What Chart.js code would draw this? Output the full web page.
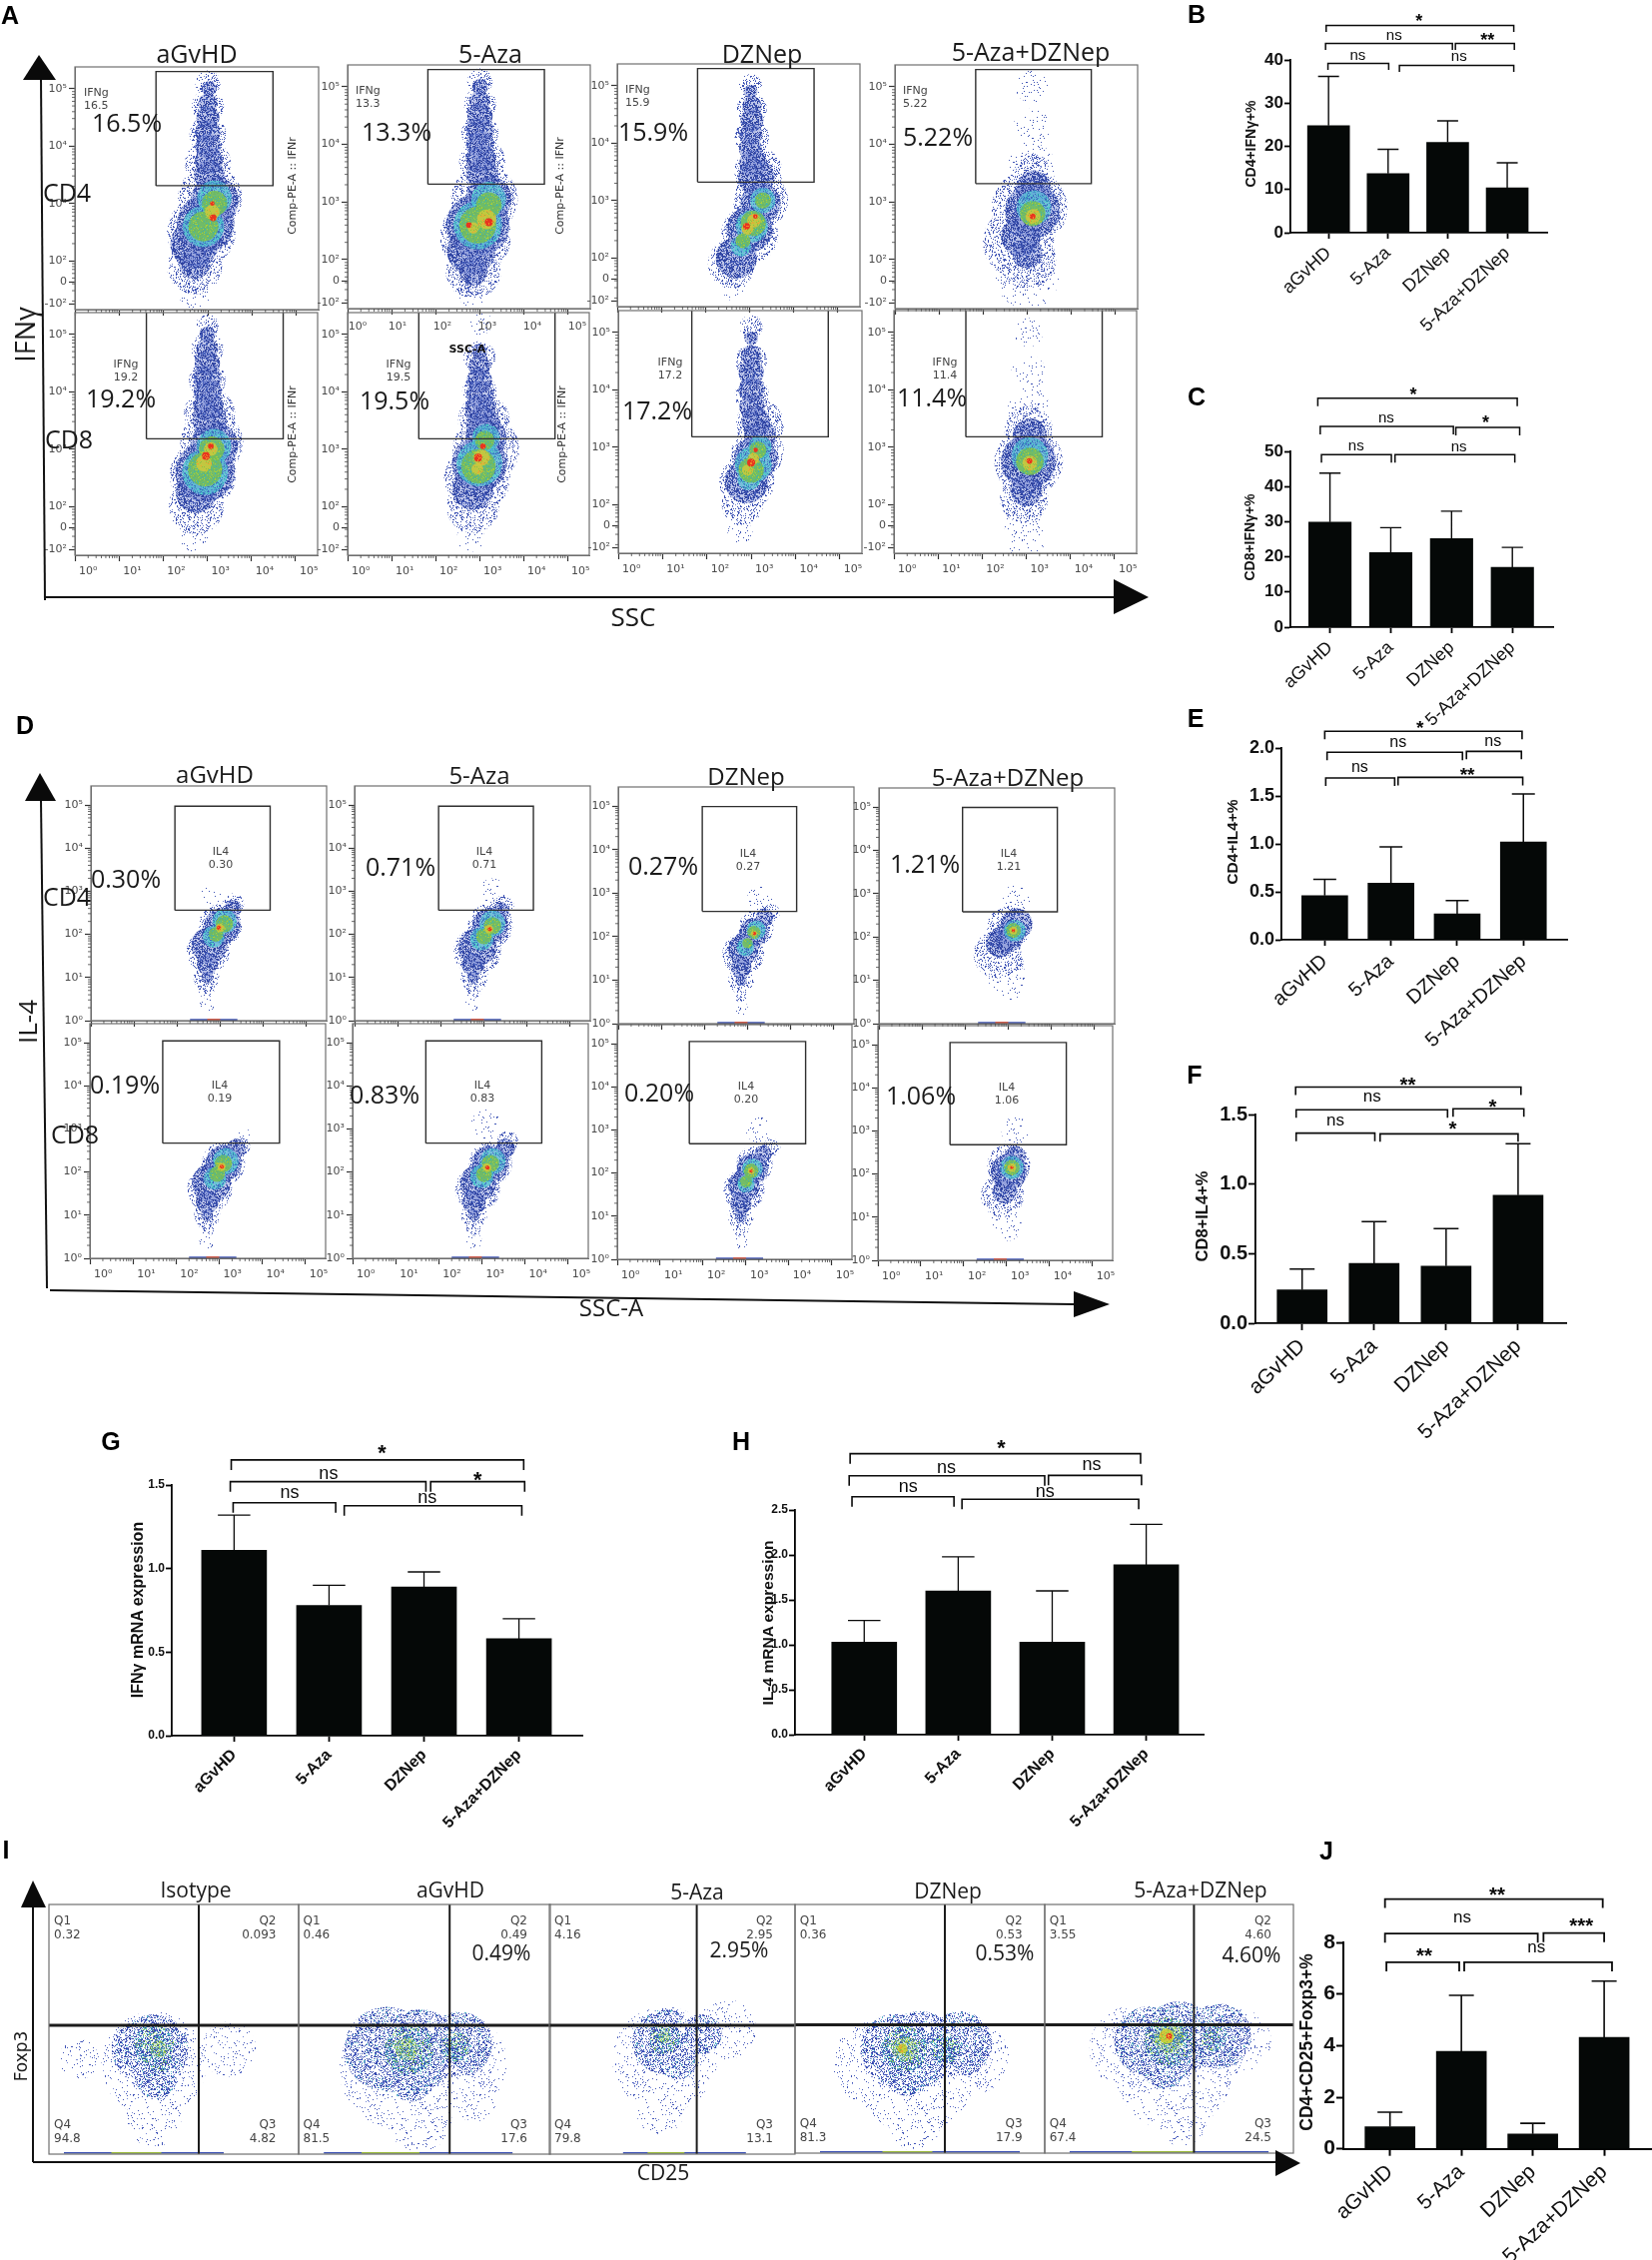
<!DOCTYPE html>
<html>
<head>
<meta charset="utf-8">
<title>Flow cytometry and cytokine bar charts</title>
<script src="https://cdn.jsdelivr.net/npm/chart.js@4"></script>
<style>
  html, body { margin: 0; background: #fff; }
  #page { position: relative; width: 1654px; height: 2263px; overflow: hidden; background: #fff; }
  #page canvas { position: absolute; }
  .txt { position: absolute; white-space: pre; transform-origin: center; line-height: 1; color: #1a1a1a; }
  #arrows { position: absolute; left: 0; top: 0; }
</style>
</head>
<body>
<div id="page"></div>
<script>
// ---------- bar chart data ----------
const groups = ["aGvHD", "5-Aza", "DZNep", "5-Aza+DZNep"];

const cd4IfnMeans = [24.8, 13.7, 20.9, 10.4];
const cd4IfnTops = [36.2, 19.3, 25.9, 16.2];
const cd4IfnTicks = [0, 10, 20, 30, 40];
const cd4IfnBrackets = [
  [-0.04, 3.11, 48, "*", 1.52, 49.8], [-0.05, 2.08, 43.8, "ns", 1.1, 45.6], [2.13, 3.12, 43.8, "**", 2.67, 45.3],
  [-0.01, 1.01, 39.2, "ns", 0.49, 41], [1.19, 3.11, 38.7, "ns", 2.19, 40.8],
];
const cd8IfnMeans = [29.9, 21.2, 25.2, 17];
const cd8IfnTops = [43.8, 28.3, 33, 22.7];
const cd8IfnTicks = [0, 10, 20, 30, 40, 50];
const cd8IfnBrackets = [
  [-0.2, 3.08, 65.1, "*", 1.37, 67], [-0.16, 2.03, 57.1, "ns", 0.925, 59.5], [2.07, 3.12, 56.8, "*", 2.56, 59.2],
  [-0.14, 1.01, 49.1, "ns", 0.43, 51.4], [1.07, 3.04, 49.1, "ns", 2.12, 51.2],
];
const cd4Il4Means = [0.46, 0.59, 0.27, 1.02];
const cd4Il4Tops = [0.63, 0.97, 0.41, 1.52];
const cd4Il4Ticks = [0, 0.5, 1, 1.5, 2];
const cd4Il4Brackets = [
  [0, 2.98, 2.174, "*", 1.44, 2.243], [0.035, 2.08, 1.955, "ns", 1.107, 2.059], [2.14, 2.97, 1.965, "ns", 2.54, 2.066],
  [0.015, 1.056, 1.687, "ns", 0.528, 1.791], [1.107, 2.99, 1.694, "**", 2.153, 1.763],
];
const cd8Il4Means = [0.24, 0.43, 0.41, 0.92];
const cd8Il4Tops = [0.39, 0.73, 0.68, 1.29];
const cd8Il4Ticks = [0, 0.5, 1, 1.5];
const cd8Il4Brackets = [
  [-0.09, 3.04, 1.697, "**", 1.468, 1.74], [-0.083, 2.02, 1.534, "ns", 0.972, 1.625], [2.097, 3.08, 1.541, "*", 2.648, 1.584],
  [-0.083, 1.01, 1.366, "ns", 0.463, 1.457], [1.083, 3, 1.361, "*", 2.093, 1.421],
];
const ifnMrnaMeans = [1.11, 0.78, 0.89, 0.58];
const ifnMrnaTops = [1.32, 0.9, 0.98, 0.7];
const ifnMrnaTicks = [0, 0.5, 1, 1.5];
const ifnMrnaBrackets = [
  [-0.03, 3.05, 1.65, "*", 1.558, 1.713], [-0.04, 2.02, 1.52, "ns", 0.994, 1.566], [2.07, 3.06, 1.52, "*", 2.565, 1.556],
  [-0.01, 1.07, 1.394, "ns", 0.584, 1.454], [1.16, 3.03, 1.376, "ns", 2.033, 1.42],
];
const il4MrnaMeans = [1.03, 1.6, 1.03, 1.89];
const il4MrnaTops = [1.27, 1.98, 1.6, 2.34];
const il4MrnaTicks = [0, 0.5, 1, 1.5, 2, 2.5];
const il4MrnaBrackets = [
  [-0.15, 2.94, 3.126, "*", 1.459, 3.237], [-0.16, 1.92, 2.881, "ns", 0.874, 2.97], [1.96, 2.95, 2.885, "ns", 2.419, 2.996],
  [-0.13, 0.955, 2.648, "ns", 0.467, 2.759], [1.04, 2.92, 2.62, "ns", 1.923, 2.704],
];
const tregMeans = [0.86, 3.78, 0.58, 4.32];
const tregTops = [1.42, 5.95, 0.99, 6.5];
const tregTicks = [0, 2, 4, 6, 8];
const tregBrackets = [
  [-0.07, 2.98, 9.68, "**", 1.5, 10], [-0.07, 2.07, 8.34, "ns", 1.012, 8.94], [2.15, 3, 8.36, "***", 2.68, 8.77],
  [-0.05, 0.97, 7.23, "**", 0.48, 7.64], [1.04, 3.11, 7.23, "ns", 2.05, 7.81],
];

// ---------- flow cytometry data: [log SSC, log signal, spread in decades, density level] ----------
// levels: 0 faint, 1 fringe, 2 blue, 3 cyan, 4 green, 5 yellow, 6 red
const ifnCd4Agvhd = [
  [2.7, 1.4, 0.26, 0], [3, 5.1, 0.22, 1], [3, 4.7, 0.28, 1], [3, 4.2, 0.32, 1], [3, 3.7, 0.4, 1], [3.05, 3.1, 0.56, 1], [2.85, 2.5, 0.6, 1], [2.7, 1.9, 0.48, 1],
  [3.03, 5, 0.13, 2], [3, 4.75, 0.17, 2], [3, 4.5, 0.2, 2], [3, 4.25, 0.22, 2], [3, 4, 0.22, 2], [3.02, 3.75, 0.24, 2], [3.03, 3.5, 0.27, 2], [3.15, 3.05, 0.42, 2], [2.95, 2.65, 0.5, 2], [2.7, 2.3, 0.42, 2], [2.7, 1.95, 0.27, 2],
  [3.15, 3.1, 0.3, 3], [2.9, 2.6, 0.36, 3], [3.15, 3, 0.22, 4], [2.9, 2.6, 0.26, 4],
  [3.1, 2.85, 0.13, 5], [3.12, 2.75, 0.06, 6], [3.1, 3, 0.04, 6],
];
const ifnCd4Aza = [
  [2.85, 1.4, 0.25, 0], [3, 5.1, 0.22, 1], [3, 4.7, 0.28, 1], [3, 4.2, 0.32, 1], [3.05, 3.7, 0.4, 1], [3.1, 3.05, 0.58, 1], [2.9, 2.4, 0.62, 1], [2.85, 1.8, 0.48, 1],
  [3, 5, 0.14, 2], [3, 4.75, 0.18, 2], [3, 4.5, 0.22, 2], [3, 4.25, 0.24, 2], [3, 4, 0.24, 2], [3.02, 3.75, 0.26, 2], [3.05, 3.5, 0.28, 2], [3.2, 3.05, 0.4, 2], [2.95, 2.6, 0.55, 2], [2.8, 2.15, 0.42, 2], [2.85, 1.8, 0.25, 2],
  [3.2, 3.05, 0.3, 3], [2.95, 2.6, 0.42, 3], [3.2, 2.95, 0.22, 4], [2.95, 2.6, 0.32, 4],
  [3.15, 2.7, 0.17, 5], [2.85, 2.55, 0.1, 5], [3.2, 2.65, 0.07, 6], [2.75, 2.6, 0.05, 6],
];
const ifnCd4Dznep = [
  [2.65, 1.45, 0.2, 0], [3.02, 5, 0.2, 1], [3.05, 4.6, 0.26, 1], [3.05, 4.1, 0.3, 1], [3.2, 3.5, 0.42, 1], [3.25, 3, 0.48, 1], [3, 2.4, 0.5, 1], [2.6, 1.9, 0.42, 1],
  [3.02, 4.9, 0.12, 2], [3.05, 4.65, 0.17, 2], [3.05, 4.4, 0.2, 2], [3.03, 4.15, 0.2, 2], [3.02, 3.9, 0.2, 2], [3.08, 3.65, 0.24, 2], [3.15, 3.4, 0.32, 2], [3.25, 2.95, 0.35, 2], [3, 2.5, 0.4, 2], [2.7, 2, 0.36, 2],
  [3.3, 3, 0.22, 3], [3.05, 2.55, 0.28, 3], [2.8, 2.2, 0.18, 3], [3.3, 3, 0.14, 4], [3.08, 2.6, 0.22, 4], [2.85, 2.3, 0.13, 4],
  [3.1, 2.65, 0.12, 5], [2.95, 2.5, 0.1, 5], [3.13, 2.72, 0.04, 6], [2.93, 2.55, 0.06, 6],
];
const ifnCd4Both = [
  [3.1, 5, 0.28, 0], [3.1, 4.3, 0.32, 0], [3.1, 3.6, 0.42, 0], [3.1, 1.3, 0.3, 0], [3, 1.7, 0.55, 0],
  [3.1, 3.55, 0.3, 1], [3.05, 2.9, 0.66, 1], [2.8, 2.3, 0.62, 1], [3, 2, 0.5, 1],
  [3.15, 3.25, 0.3, 2], [3.12, 2.85, 0.48, 2], [2.85, 2.4, 0.34, 2], [3, 2.1, 0.26, 2],
  [3.15, 2.9, 0.3, 3], [3.12, 2.8, 0.22, 4], [3.13, 2.75, 0.13, 5], [3.12, 2.75, 0.05, 6],
];
const ifnCd8Agvhd = [
  [2.7, 1.45, 0.24, 0], [3, 5.15, 0.2, 1], [3, 4.75, 0.28, 1], [3, 4.2, 0.32, 1], [3.05, 3.6, 0.45, 1], [3.1, 3.1, 0.55, 1], [2.9, 2.55, 0.58, 1], [2.75, 2, 0.48, 1],
  [3, 5, 0.14, 2], [3, 4.75, 0.19, 2], [3, 4.5, 0.22, 2], [3, 4.25, 0.24, 2], [3, 4, 0.24, 2], [3.02, 3.75, 0.26, 2], [3.05, 3.5, 0.3, 2], [3.15, 3.05, 0.42, 2], [2.95, 2.6, 0.52, 2], [2.75, 2.25, 0.36, 2],
  [3.15, 3.05, 0.3, 3], [2.95, 2.6, 0.4, 3], [3.1, 3, 0.22, 4], [2.95, 2.65, 0.3, 4],
  [3.08, 3, 0.12, 5], [2.92, 2.75, 0.14, 5], [3.08, 3.05, 0.05, 6], [2.97, 2.88, 0.07, 6],
];
const ifnCd8Aza = [
  [2.8, 1.45, 0.24, 0], [3, 5.2, 0.22, 0], [3, 4.6, 0.28, 1], [3, 4, 0.3, 1], [3.1, 3.5, 0.45, 1], [3.15, 3, 0.58, 1], [2.95, 2.5, 0.58, 1], [2.85, 2, 0.46, 1],
  [3, 4.7, 0.14, 2], [3, 4.45, 0.19, 2], [3, 4.2, 0.22, 2], [3.01, 3.95, 0.24, 2], [3.02, 3.7, 0.26, 2], [3.08, 3.45, 0.3, 2], [3.15, 3.2, 0.36, 2], [3, 2.75, 0.48, 2], [2.85, 2.3, 0.36, 2],
  [3.15, 3.2, 0.24, 3], [3, 2.75, 0.4, 3], [3.12, 3.15, 0.17, 4], [2.98, 2.7, 0.3, 4],
  [3.05, 2.85, 0.14, 5], [2.95, 2.65, 0.1, 5], [3.08, 3.05, 0.05, 6], [2.97, 2.85, 0.07, 6],
];
const ifnCd8Dznep = [
  [2.75, 1.5, 0.22, 0], [3, 5.1, 0.2, 1], [3, 4.5, 0.28, 1], [3.02, 3.9, 0.3, 1], [3.2, 3.4, 0.42, 1], [3.15, 2.9, 0.46, 1], [2.9, 2.4, 0.48, 1], [2.8, 2, 0.36, 1],
  [3, 4.9, 0.12, 2], [3, 4.6, 0.18, 2], [3, 4.3, 0.22, 2], [3, 4, 0.22, 2], [3.02, 3.7, 0.22, 2], [3.1, 3.45, 0.25, 2], [3.2, 3.2, 0.28, 2], [3.1, 2.8, 0.38, 2], [2.9, 2.4, 0.38, 2],
  [3.2, 3, 0.2, 3], [3.05, 2.7, 0.32, 3], [2.95, 2.45, 0.2, 3], [3.15, 2.95, 0.15, 4], [3, 2.6, 0.22, 4],
  [3.05, 2.8, 0.1, 5], [2.92, 2.6, 0.1, 5], [3.1, 2.95, 0.04, 6], [3, 2.73, 0.07, 6],
];
const ifnCd8Both = [
  [3.05, 5, 0.25, 0], [3.05, 4.3, 0.3, 0], [3.05, 3.7, 0.36, 0], [2.95, 1.6, 0.34, 0], [3, 1.25, 0.3, 0],
  [3.05, 3.3, 0.42, 1], [3.05, 2.75, 0.6, 1], [2.95, 2.1, 0.42, 1],
  [3.08, 3.2, 0.3, 2], [3.05, 2.75, 0.48, 2], [3, 2.25, 0.28, 2],
  [3.08, 2.85, 0.32, 3], [3.08, 2.75, 0.24, 4], [3.08, 2.72, 0.13, 5], [3.07, 2.76, 0.05, 6],
];
const il4Cd4Agvhd = [
  [2.7, 0.4, 0.18, 0], [2.8, 2.9, 0.25, 0], [3.3, 2.7, 0.25, 1], [3, 2.2, 0.5, 1], [2.72, 1.6, 0.5, 1], [2.68, 1, 0.3, 1], [2.68, 0.7, 0.18, 1],
  [3.3, 2.6, 0.2, 2], [3.05, 2.2, 0.42, 2], [2.75, 1.75, 0.42, 2], [2.7, 1.3, 0.24, 2], [2.7, 1, 0.14, 2],
  [3.1, 2.3, 0.28, 3], [2.85, 1.95, 0.25, 3], [3.1, 2.25, 0.2, 4], [2.9, 2, 0.17, 4], [3, 2.15, 0.1, 5], [2.97, 2.15, 0.05, 6],
];
const il4Cd4Aza = [
  [3.2, 3, 0.3, 0], [2.75, 0.4, 0.18, 0], [3.45, 2.65, 0.25, 1], [3.15, 2.2, 0.52, 1], [2.85, 1.6, 0.55, 1], [2.78, 1, 0.32, 1], [2.76, 0.7, 0.18, 1],
  [3.4, 2.55, 0.2, 2], [3.15, 2.2, 0.42, 2], [2.85, 1.7, 0.44, 2], [2.75, 1.3, 0.26, 2], [2.75, 1, 0.14, 2],
  [3.2, 2.25, 0.3, 3], [2.95, 1.9, 0.27, 3], [3.2, 2.2, 0.2, 4], [3, 1.95, 0.18, 4], [3.12, 2.12, 0.1, 5], [3.14, 2.12, 0.05, 6],
];
const il4Cd4Dznep = [
  [3.3, 2.9, 0.3, 0], [2.85, 0.35, 0.16, 0], [3.55, 2.55, 0.2, 1], [3.2, 2.2, 0.4, 1], [2.9, 1.6, 0.48, 1], [2.85, 1, 0.3, 1], [2.85, 0.65, 0.16, 1],
  [3.4, 2.45, 0.2, 2], [3.15, 2.1, 0.33, 2], [2.9, 1.7, 0.35, 2], [2.85, 1.3, 0.24, 2], [2.85, 1, 0.13, 2],
  [3.2, 2.15, 0.22, 3], [2.95, 1.75, 0.2, 3], [3.15, 2.1, 0.15, 4], [3, 1.85, 0.12, 4], [3.15, 2.07, 0.07, 5], [3.16, 2.07, 0.04, 6],
];
const il4Cd4Both = [
  [3.2, 2.9, 0.32, 0], [3, 1, 0.45, 0], [3, 2.2, 0.5, 1], [2.75, 1.6, 0.55, 1], [3.05, 1.4, 0.3, 1],
  [3.2, 2.3, 0.36, 2], [2.8, 1.85, 0.32, 2], [3, 2, 0.35, 2],
  [3.15, 2.15, 0.25, 3], [3.12, 2.15, 0.17, 4], [3.12, 2.15, 0.09, 5], [3.12, 2.15, 0.04, 6],
];
const il4Cd8Agvhd = [
  [3.6, 2.8, 0.2, 0], [2.72, 0.4, 0.18, 0], [3.5, 2.6, 0.22, 1], [3.1, 2.2, 0.5, 1], [2.78, 1.6, 0.52, 1], [2.72, 1, 0.3, 1], [2.72, 0.7, 0.18, 1],
  [3.4, 2.55, 0.22, 2], [3.1, 2.2, 0.42, 2], [2.82, 1.75, 0.45, 2], [2.72, 1.3, 0.26, 2], [2.72, 1, 0.14, 2],
  [3.15, 2.25, 0.3, 3], [2.9, 1.85, 0.26, 3], [3.1, 2.2, 0.2, 4], [2.95, 1.95, 0.18, 4], [3.05, 2.12, 0.1, 5], [3.06, 2.12, 0.05, 6],
];
const il4Cd8Aza = [
  [3.1, 3.1, 0.35, 0], [2.82, 0.4, 0.18, 0], [3.6, 2.7, 0.25, 1], [3.2, 2.2, 0.5, 1], [2.9, 1.6, 0.52, 1], [2.82, 1, 0.3, 1], [2.82, 0.7, 0.18, 1],
  [3.55, 2.55, 0.22, 2], [3.2, 2.2, 0.42, 2], [2.92, 1.75, 0.42, 2], [2.82, 1.3, 0.27, 2], [2.82, 1, 0.14, 2],
  [3.25, 2.25, 0.3, 3], [3, 1.9, 0.27, 3], [3.2, 2.2, 0.2, 4], [3.05, 1.95, 0.18, 4], [3.12, 2.1, 0.1, 5], [3.13, 2.1, 0.05, 6],
];
const il4Cd8Dznep = [
  [3.3, 3, 0.3, 0], [2.88, 0.4, 0.18, 0], [3.6, 2.6, 0.2, 1], [3.2, 2.2, 0.42, 1], [2.95, 1.6, 0.48, 1], [2.88, 1, 0.3, 1], [2.88, 0.7, 0.18, 1],
  [3.4, 2.45, 0.2, 2], [3.15, 2.1, 0.36, 2], [2.95, 1.7, 0.36, 2], [2.88, 1.3, 0.25, 2], [2.88, 1, 0.14, 2],
  [3.15, 2.1, 0.24, 3], [3, 1.75, 0.2, 3], [3.12, 2.05, 0.17, 4], [3, 1.8, 0.14, 4], [3.12, 2.05, 0.08, 5], [3.12, 2.05, 0.04, 6],
];
const il4Cd8Both = [
  [3.2, 3, 0.32, 0], [3, 0.8, 0.35, 0], [2.95, 1, 0.3, 0], [3.05, 2.2, 0.5, 1], [2.9, 1.5, 0.5, 1],
  [3.2, 2.4, 0.25, 2], [3.05, 2.05, 0.42, 2], [2.95, 1.6, 0.28, 2],
  [3.12, 2.15, 0.27, 3], [3.12, 2.15, 0.18, 4], [3.12, 2.15, 0.1, 5], [3.12, 2.15, 0.04, 6],
];
// Foxp3 panels use percent of the plot width and height for both axes
const foxpIsotype = [
  [42, 36, 21, 0], [72, 42, 11, 0], [42, 14, 11, 0], [12, 38, 8, 0],
  [42, 42, 14, 1], [36, 42, 11, 1], [43, 30, 8, 1], [42, 44, 8, 2], [44, 38, 5, 2], [44, 42, 3.5, 3],
];
const foxpAgvhd = [
  [40, 34, 24, 0], [62, 36, 21, 0], [48, 14, 13, 0], [70, 22, 9, 0], [35, 42, 17, 1], [48, 42, 16, 1], [64, 44, 13, 1], [45, 30, 9, 1],
  [44, 42, 10, 2], [62, 43, 6, 2], [43, 42, 4.5, 3],
];
const foxpAza = [
  [47, 38, 21, 0], [72, 50, 12, 0], [45, 18, 10, 0], [47, 45, 13, 1], [52, 38, 8, 1], [62, 48, 8, 1], [47, 46, 6, 2], [47, 47, 2.5, 3],
];
const foxpDznep = [
  [32, 36, 17, 0], [48, 32, 24, 0], [72, 38, 14, 0], [48, 11, 10, 0],
  [40, 42, 14, 1], [50, 42, 15, 1], [66, 44, 13, 1], [45, 32, 9, 1], [44, 42, 9, 2], [60, 42, 6, 2], [44, 42, 5, 3], [43, 42, 2, 4],
];
const foxpBoth = [
  [35, 42, 17, 0], [52, 32, 23, 0], [78, 45, 13, 0], [55, 13, 10, 0],
  [42, 45, 14, 1], [54, 46, 15, 1], [70, 47, 13, 1], [48, 35, 9, 1], [50, 45, 10, 2], [68, 46, 5, 2], [50, 46, 6, 3], [49, 47, 3, 4], [50, 47, 1.2, 5],
];

// gates: [x from, x to, y from, y to]
const ifnGates = [
  [1.83, 4.47, 3.31, 5.3], [1.82, 4.46, 3.31, 5.3], [1.82, 4.46, 3.32, 5.3], [1.83, 4.45, 3.32, 5.3],
  [1.62, 4.72, 3.18, 5.5], [1.62, 4.72, 3.18, 5.5], [1.66, 4.74, 3.18, 5.5], [1.63, 4.72, 3.18, 5.5],
];
const il4Gates = [
  [1.95, 4.16, 2.56, 4.97], [1.95, 4.15, 2.56, 4.97], [1.95, 4.14, 2.58, 4.99], [1.94, 4.14, 2.58, 4.99],
  [1.69, 4.4, 2.67, 5.04], [1.7, 4.39, 2.67, 5.04], [1.68, 4.39, 2.68, 5.05], [1.68, 4.39, 2.68, 5.05],
];
const foxpGateX = [60, 60, 60, 60, 60];
const foxpGateY = [51.6, 51.6, 51.6, 51.6, 51.6];
const foxpQuadrants = [
  ["0.32", "0.093", "4.82", "94.8"], ["0.46", "0.49", "17.6", "81.5"], ["4.16", "2.95", "13.1", "79.8"],
  ["0.36", "0.53", "17.9", "81.3"], ["3.55", "4.60", "24.5", "67.4"],
];
const ifnPercents = ["16.5", "13.3", "15.9", "5.22", "19.2", "19.5", "17.2", "11.4"];
const il4Percents = ["0.30", "0.71", "0.27", "1.21", "0.19", "0.83", "0.20", "1.06"];

const decadeLabels = ["10⁰", "10¹", "10²", "10³", "10⁴", "10⁵"];
const ifnYTicks = [1.25, 1.63, 2, 3, 4, 5];
const ifnYLabels = ["-10²", "0", "10²", "10³", "10⁴", "10⁵"];
const il4YTicks = [0, 1, 2, 3, 4, 5];
const minorSteps = [0.3, 0.48, 0.6, 0.7, 0.78, 0.85, 0.9, 0.95];

// ---------- layout (page pixels) ----------
const FONT_SANS = '"Liberation Sans", Arial, sans-serif';
const FONT_TITLE = '"Open Sans", sans-serif';
const FONT_FLOW = '"DejaVu Sans", sans-serif';

const page = document.getElementById("page");
Chart.defaults.animation = false;
Chart.defaults.responsive = false;
Chart.defaults.devicePixelRatio = 1;
Chart.defaults.events = [];

function addCanvas(x0, y0, x1, y1) {
  const c = document.createElement("canvas");
  c.width = Math.round(x1 - x0);
  c.height = Math.round(y1 - y0);
  c.style.left = x0 + "px";
  c.style.top = y0 + "px";
  page.appendChild(c);
  return c;
}

function put(text, x, y, size, opts) {
  const o = opts || {};
  const el = document.createElement("div");
  el.className = "txt";
  el.textContent = text;
  el.style.left = x + "px";
  el.style.top = y + "px";
  el.style.fontFamily = o.font || FONT_TITLE;
  el.style.fontSize = size + "px";
  if (o.weight) el.style.fontWeight = o.weight;
  if (o.color) el.style.color = o.color;
  const ax = o.anchor === "left" ? "0" : o.anchor === "right" ? "-100%" : "-50%";
  el.style.transform = `translate(${ax},-50%)` + (o.rot ? ` rotate(${o.rot}deg)` : "");
  el.style.zIndex = 5;
  page.appendChild(el);
}

// ---------- density textures (fill style only, fixed hash so every run is the same) ----------
function hash(n) {
  const s = Math.sin(n * 12.9898) * 43758.5453;
  return s - Math.floor(s);
}

function makeTile(size, bg, dots) {
  const t = document.createElement("canvas");
  t.width = t.height = size;
  const g = t.getContext("2d");
  if (bg) {
    g.fillStyle = bg;
    g.fillRect(0, 0, size, size);
  }
  let i = 1;
  dots.forEach(([color, count]) => {
    g.fillStyle = color;
    for (let n = 0; n < count; n++, i++) {
      g.fillRect(Math.floor(hash(i) * size), Math.floor(hash(i + 0.5) * size), 1, 1);
    }
  });
  return g.createPattern(t, "repeat");
}

const denseTiles = [
  makeTile(97, null, [["#3f55b5", 420]]),
  makeTile(79, null, [["#3b50b2", 1200], ["#6d80d0", 300]]),
  makeTile(61, "rgba(90,110,200,0.4)", [["#2f429f", 1650], ["#4a63bd", 650]]),
  makeTile(61, "rgba(60,185,210,0.55)", [["#3f63bd", 460], ["#50cfc8", 840]]),
  makeTile(61, "rgba(116,189,85,0.85)", [["#3fb4b0", 420], ["#a9cf3a", 430]]),
  makeTile(61, "rgba(214,203,56,0.8)", [["#8cc043", 500], ["#f0a030", 350]]),
  makeTile(23, "#e8351f", [["#f0862a", 90]]),
];
const looseTiles = [
  makeTile(97, null, [["#4256b8", 400], ["#7a8ad6", 160]]),
  makeTile(79, null, [["#3548ad", 1700], ["#6f82d2", 700], ["#5ab4c8", 280]]),
  makeTile(61, null, [["#3548ad", 880], ["#56b8c4", 750], ["#8fcb55", 270]]),
  makeTile(61, "rgba(120,190,120,0.35)", [["#94c93f", 970], ["#3f9fc0", 570], ["#3548ad", 230]]),
  makeTile(41, "#c6d040", [["#e8a030", 380], ["#8cc043", 380]]),
  makeTile(13, "#e8351f", [["#f0b030", 40]]),
];

// ---------- flow panels ----------
function frameAndMinor(drawMinor) {
  return {
    id: "frameAndMinor",
    afterDraw(chart) {
      const { ctx, chartArea: a, scales } = chart;
      ctx.save();
      ctx.strokeStyle = "#6f6f6f";
      ctx.lineWidth = 1.2;
      ctx.strokeRect(a.left, a.top, a.right - a.left, a.bottom - a.top);
      if (drawMinor) {
        ctx.strokeStyle = "#444";
        ctx.lineWidth = 0.8;
        ctx.beginPath();
        for (let d = 0; d < 5; d++) {
          minorSteps.forEach((m) => {
            const px = scales.x.getPixelForValue(d + m);
            if (px <= a.right) {
              ctx.moveTo(px, a.bottom);
              ctx.lineTo(px, a.bottom + 3);
            }
            if (d + m > scales.y.min && d + m < scales.y.max) {
              const py = scales.y.getPixelForValue(d + m);
              ctx.moveTo(a.left, py);
              ctx.lineTo(a.left - 3, py);
            }
          });
        }
        ctx.stroke();
      }
      ctx.restore();
    },
  };
}

// pxPerUnit turns a spread in axis units into the bubble radius the library expects
function cloudDatasets(cloud, tiles, pxPerUnit) {
  const sets = [];
  tiles.forEach((tile, level) => {
    const rows = cloud.filter((r) => r[3] === level);
    if (!rows.length) return;
    sets.push({
      type: "bubble",
      data: rows.map((r) => ({ x: r[0], y: r[1], r: r[2] * pxPerUnit })),
      backgroundColor: tile,
      borderWidth: 0,
      clip: 0,
      order: 10 - level,
    });
  });
  return sets;
}

function lineSet(points, color, width, order) {
  return {
    type: "scatter",
    data: points.map((p) => ({ x: p[0], y: p[1] })),
    showLine: true,
    pointRadius: 0,
    borderColor: color,
    borderWidth: width,
    clip: 0,
    order: order,
  };
}

function flowChart(rect, cloud, gate, axis, withXLabels) {
  const [L, T, R, B] = rect;
  const x0 = L - 38, y0 = T - 1, x1 = R + 2, y1 = B + (withXLabels ? 34 : 6);
  const [gx0, gx1, gy0, gy1] = gate;
  const datasets = [
    lineSet([[gx0, gy0], [gx1, gy0], [gx1, gy1], [gx0, gy1], [gx0, gy0]], "#2f2f2f", 1.4, 0),
    ...cloudDatasets(cloud, denseTiles, (B - T) / (axis.yMax - axis.yMin)),
  ];
  if (axis.strip) {
    datasets.push(lineSet([[axis.strip[0], 0.02], [axis.strip[1], 0.02]], "#3b50b2", 2, 1));
    datasets.push(lineSet([[axis.strip[2], 0.02], [axis.strip[3], 0.02]], "#d8553a", 2, 0.5));
  }
  new Chart(addCanvas(x0, y0, x1, y1), {
    type: "bubble",
    data: { datasets },
    options: {
      layout: { autoPadding: false, padding: { top: T - y0, right: x1 - R, left: 0, bottom: 0 } },
      plugins: { legend: { display: false }, tooltip: { enabled: false } },
      scales: {
        x: {
          type: "linear", min: 0, max: axis.xMax,
          grid: { drawOnChartArea: false, tickLength: 6, tickColor: "#333", tickWidth: 1.2 },
          border: { color: "#6f6f6f" },
          ticks: {
            display: !!withXLabels, autoSkip: false, maxRotation: 0, minRotation: 0, align: "start", labelOffset: 4, padding: 4,
            color: "#4a4a4a", font: { family: FONT_FLOW, size: 11 },
            callback: (v, i) => decadeLabels[i],
          },
          afterBuildTicks: (s) => { s.ticks = [0, 1, 2, 3, 4, 5].map((value) => ({ value })); },
          afterFit: (s) => { s.height = y1 - B; s.paddingLeft = 0; s.paddingRight = 0; },
        },
        y: {
          type: "linear", min: axis.yMin, max: axis.yMax,
          grid: { drawOnChartArea: false, tickLength: 6, tickColor: "#333", tickWidth: 1.2 },
          border: { color: "#6f6f6f" },
          ticks: {
            autoSkip: false, padding: 2, color: "#4a4a4a", font: { family: FONT_FLOW, size: 11 },
            callback: (v, i) => axis.yLabels[i],
          },
          afterBuildTicks: (s) => { s.ticks = axis.yTicks.map((value) => ({ value })); },
          afterFit: (s) => { s.width = L - x0; s.paddingTop = 0; s.paddingBottom = 0; },
        },
      },
    },
    plugins: [frameAndMinor(true)],
  });
}

function foxpChart(rect, cloud, gx, gy, strip) {
  const [L, T, R, B] = rect;
  new Chart(addCanvas(L - 1, T - 1, R + 1, B + 1), {
    type: "bubble",
    data: {
      datasets: [
        lineSet([[gx, 0], [gx, 100]], "#1c1c1c", 2, 0),
        lineSet([[0, gy], [100, gy]], "#1c1c1c", 3, 0),
        lineSet([[strip[0], 0.5], [strip[1], 0.5]], "#3b50b2", 1.6, 2),
        lineSet([[strip[2], 0.5], [strip[3], 0.5]], "#9ab83a", 1.6, 1),
        ...cloudDatasets(cloud, looseTiles, (B - T) / 100),
      ],
    },
    options: {
      layout: { autoPadding: false, padding: 1 },
      plugins: { legend: { display: false }, tooltip: { enabled: false } },
      scales: {
        x: { type: "linear", min: 0, max: 100, display: false },
        y: { type: "linear", min: 0, max: 100, display: false },
      },
    },
    plugins: [frameAndMinor(false)],
  });
}

// ---------- bar panels ----------
function annotations(means, tops, brackets, o) {
  return {
    id: "annotations",
    afterDatasetsDraw(chart) {
      const { ctx, scales: { x, y } } = chart;
      ctx.save();
      ctx.strokeStyle = "#0a0a0a";
      ctx.lineWidth = o.whisker;
      ctx.beginPath();
      means.forEach((m, i) => {
        const px = x.getPixelForValue(i);
        const top = y.getPixelForValue(tops[i]);
        ctx.moveTo(px, y.getPixelForValue(m));
        ctx.lineTo(px, top);
        ctx.moveTo(px - o.bar / 4, top);
        ctx.lineTo(px + o.bar / 4, top);
      });
      ctx.stroke();
      ctx.lineWidth = o.bracket;
      brackets.forEach(([a, b, v, text, tx, tv]) => {
        const xa = x.getPixelForValue(a), xb = x.getPixelForValue(b), py = y.getPixelForValue(v);
        ctx.beginPath();
        ctx.moveTo(xa, py + o.foot);
        ctx.lineTo(xa, py);
        ctx.lineTo(xb, py);
        ctx.lineTo(xb, py + o.foot);
        ctx.stroke();
        ctx.fillStyle = "#0a0a0a";
        ctx.textAlign = "center";
        ctx.textBaseline = "middle";
        const star = text.startsWith("*");
        ctx.font = star ? `bold ${o.signif * 1.2}px ${FONT_SANS}` : `${o.signif}px ${FONT_SANS}`;
        ctx.fillText(text, x.getPixelForValue(tx), y.getPixelForValue(tv) + (star ? o.signif * 0.28 : 0));
      });
      ctx.restore();
    },
  };
}

function barChart(p) {
  const [L, T, R, B] = p.rect;
  const x0 = L - 70, y0 = T - 85, x1 = Math.min(R + 3, 1654), y1 = Math.min(B + 150, 2263);
  new Chart(addCanvas(x0, y0, x1, y1), {
    type: "bar",
    data: {
      datasets: [{
        data: p.means.map((y, x) => ({ x, y })),
        backgroundColor: "#050807",
        barThickness: p.bar,
      }],
    },
    options: {
      layout: { padding: { top: T - y0, right: x1 - R, left: 0, bottom: 0 } },
      plugins: { legend: { display: false }, tooltip: { enabled: false } },
      scales: {
        x: {
          type: "linear", min: p.xRange[0], max: p.xRange[1], offset: false,
          grid: { offset: false, drawOnChartArea: false, tickLength: p.tick, tickColor: "#000", tickWidth: p.axisWidth },
          border: { color: "#000", width: p.axisWidth },
          ticks: {
            autoSkip: false, minRotation: p.rotation, maxRotation: p.rotation, padding: 4, color: "#111",
            font: { family: FONT_SANS, size: p.xFont, weight: p.xWeight },
            callback: (v, i) => groups[i],
          },
          afterBuildTicks: (s) => { s.ticks = groups.map((g, value) => ({ value })); },
          afterFit: (s) => { s.height = y1 - B; s.paddingLeft = 0; s.paddingRight = 0; },
        },
        y: {
          type: "linear", min: 0, max: p.ticks[p.ticks.length - 1],
          grid: { drawOnChartArea: false, tickLength: p.tick, tickColor: "#000", tickWidth: p.axisWidth },
          border: { color: "#000", width: p.axisWidth },
          ticks: {
            autoSkip: false, padding: 1, color: "#111",
            font: { family: FONT_SANS, size: p.yFont, weight: "bold" },
            callback: (v, i) => p.ticks[i].toFixed(p.decimals),
          },
          afterBuildTicks: (s) => { s.ticks = p.ticks.map((value) => ({ value })); },
          afterFit: (s) => { s.width = L - x0; s.paddingTop = 0; s.paddingBottom = 0; },
        },
      },
    },
    plugins: [annotations(p.means, p.tops, p.brackets, {
      bar: p.bar, whisker: p.whisker, bracket: p.bracketWidth, foot: p.foot, signif: p.signif,
    })],
  });
  put(p.title, p.titleAt[0], p.titleAt[1], p.titleFont, { font: FONT_SANS, weight: "bold", rot: -90, color: "#111" });
}

// ---------- panel A ----------
const ifnClouds = [ifnCd4Agvhd, ifnCd4Aza, ifnCd4Dznep, ifnCd4Both, ifnCd8Agvhd, ifnCd8Aza, ifnCd8Dznep, ifnCd8Both];
const ifnRects = [
  [75, 67, 319, 310], [347.5, 65, 590.5, 309], [617.5, 64.4, 860, 307.5], [896, 65, 1139, 308.6],
  [75, 313, 318, 556], [348, 313, 590, 556], [619, 311, 862.5, 554], [895, 311, 1138, 554],
];
const ifnAxis = { xMax: 5.5, yMin: 1.15, yMax: 5.38, yTicks: ifnYTicks, yLabels: ifnYLabels };
ifnRects.forEach((r, i) => flowChart(r, ifnClouds[i], ifnGates[i], ifnAxis, i >= 4));

const ifnGateLabelAt = [[84, 92, "left"], [356, 90, "left"], [626, 89, "left"], [904, 90, "left"], [126, 364], [399, 364], [671, 362], [946, 362]];
const ifnBigAt = [[127, 122], [397, 131], [654, 131], [939, 136], [121, 398], [395, 400], [658, 410], [933, 397]];
ifnPercents.forEach((p, i) => {
  const [lx, ly, anchor] = ifnGateLabelAt[i];
  put("IFNg", lx, ly, 11, { font: FONT_FLOW, color: "#444", anchor });
  put(p, lx, ly + 13, 11, { font: FONT_FLOW, color: "#444", anchor });
  put(p + "%", ifnBigAt[i][0], ifnBigAt[i][1], 25);
});
[[292, 186], [560, 186], [292, 435], [562, 435]].forEach(([x, y]) =>
  put("Comp-PE-A :: IFNr", x, y, 11, { font: FONT_FLOW, color: "#333", rot: -90 }));
put("SSC-A", 468, 349, 11, { font: FONT_FLOW, weight: "bold", color: "#111" });
[358, 398, 443, 488, 533, 578].forEach((x, i) => put(decadeLabels[i], x, 326, 11, { font: FONT_FLOW, color: "#4a4a4a" }));
[["aGvHD", 197, 53], ["5-Aza", 491, 53], ["DZNep", 763, 53], ["5-Aza+DZNep", 1032, 51]].forEach(([t, x, y]) => put(t, x, y, 25));
put("IFNγ", 24, 335, 27, { rot: -90 });
put("CD4", 67, 192, 25);
put("CD8", 69, 439, 25);
put("SSC", 634, 617, 26);

// ---------- panel D ----------
const il4Clouds = [il4Cd4Agvhd, il4Cd4Aza, il4Cd4Dznep, il4Cd4Both, il4Cd8Agvhd, il4Cd8Aza, il4Cd8Dznep, il4Cd8Both];
const il4Rects = [
  [91, 787, 327, 1022], [355, 787, 590.5, 1022], [619, 788, 854.5, 1024.5], [880, 789, 1115.7, 1025],
  [89.5, 1024.5, 325, 1259.6], [353, 1024.5, 588.6, 1259.6], [617.7, 1026, 852.7, 1261], [878.6, 1027, 1114, 1262],
];
const il4Axis = { xMax: 5.47, yMin: 0, yMax: 5.44, yTicks: il4YTicks, yLabels: decadeLabels, strip: [2.3, 3.4, 2.7, 3.0] };
il4Rects.forEach((r, i) => flowChart(r, il4Clouds[i], il4Gates[i], il4Axis, i >= 4));

const il4GateLabelAt = [[221, 852], [485, 852], [749, 854], [1010, 854], [220, 1086], [483, 1086], [747, 1087], [1008, 1088]];
const il4BigAt = [[126, 879], [401, 867], [664, 866], [926, 864], [125, 1085], [385, 1095], [660, 1093], [922, 1096]];
il4Percents.forEach((p, i) => {
  const [lx, ly] = il4GateLabelAt[i];
  put("IL4", lx, ly, 11, { font: FONT_FLOW, color: "#444" });
  put(p, lx, ly + 13, 11, { font: FONT_FLOW, color: "#444" });
  put(p + "%", il4BigAt[i][0], il4BigAt[i][1], 25);
});
[["aGvHD", 215, 775], ["5-Aza", 480, 776], ["DZNep", 747, 777], ["5-Aza+DZNep", 1009, 778]].forEach(([t, x, y]) => put(t, x, y, 24));
put("IL-4", 27, 1023, 26, { rot: -90 });
put("CD4", 67, 897, 25);
put("CD8", 75, 1135, 25);
put("SSC-A", 612, 1309, 24);

// ---------- panel I ----------
const foxpClouds = [foxpIsotype, foxpAgvhd, foxpAza, foxpDznep, foxpBoth];
const foxpRects = [[49, 1907, 298.5, 2157], [298.5, 1907, 550, 2157], [550, 1907, 796, 2157], [795.7, 1906.7, 1045.7, 2156], [1045.7, 1906.7, 1295, 2156]];
const foxpStrips = [[6, 70, 25, 45], [10, 85, 25, 48], [30, 80, 40, 55], [10, 90, 35, 55], [10, 90, 35, 60]];
foxpRects.forEach((r, i) => foxpChart(r, foxpClouds[i], foxpGateX[i], foxpGateY[i], foxpStrips[i]));

const foxpTitles = [["Isotype", 196, 1892], ["aGvHD", 451, 1892], ["5-Aza", 698, 1894], ["DZNep", 949, 1893], ["5-Aza+DZNep", 1202, 1892]];
foxpTitles.forEach(([t, x, y]) => put(t, x, y, 21));
foxpQuadrants.forEach((q, i) => {
  const [L, T, R, B] = foxpRects[i];
  const opt = { font: FONT_FLOW, color: "#444", anchor: "left" };
  const optR = { font: FONT_FLOW, color: "#444", anchor: "right" };
  put("Q1", L + 5, T + 16, 12, opt);
  put(q[0], L + 5, T + 30, 12, opt);
  put("Q2", R - 22, T + 16, 12, optR);
  put(q[1], R - 22, T + 30, 12, optR);
  put("Q4", L + 5, B - 30, 12, opt);
  put(q[3], L + 5, B - 16, 12, opt);
  put("Q3", R - 22, B - 30, 12, optR);
  put(q[2], R - 22, B - 16, 12, optR);
});
[["0.49%", 502, 1955], ["2.95%", 740, 1952], ["0.53%", 1006, 1955], ["4.60%", 1253, 1957]].forEach(([t, x, y]) => put(t, x, y, 21));
put("Foxp3", 21, 2059, 17, { font: FONT_FLOW, rot: -90 });
put("CD25", 664, 2175, 21);

// ---------- bar charts ----------
const barSpecs = [
  { rect: [1292, 59.8, 1549, 232.9], xRange: [-0.64, 3.67], bar: 42, means: cd4IfnMeans, tops: cd4IfnTops, ticks: cd4IfnTicks, decimals: 0, brackets: cd4IfnBrackets,
    rotation: 43, xFont: 18, xWeight: "normal", yFont: 17, tick: 6, axisWidth: 1.8, whisker: 1.4, bracketWidth: 1.5, foot: 6.5, signif: 15,
    title: "CD4+IFNγ+%", titleAt: [1252, 144], titleFont: 14 },
  { rect: [1291.7, 452.3, 1555, 628.8], xRange: [-0.65, 3.67], bar: 42.5, means: cd8IfnMeans, tops: cd8IfnTops, ticks: cd8IfnTicks, decimals: 0, brackets: cd8IfnBrackets,
    rotation: 43, xFont: 18, xWeight: "normal", yFont: 17, tick: 6, axisWidth: 1.8, whisker: 1.4, bracketWidth: 1.5, foot: 8, signif: 15,
    title: "CD8+IFNγ+%", titleAt: [1251, 538], titleFont: 14 },
  { rect: [1283.3, 749, 1569.3, 940.7], xRange: [-0.654, 3.66], bar: 46, means: cd4Il4Means, tops: cd4Il4Tops, ticks: cd4Il4Ticks, decimals: 1, brackets: cd4Il4Brackets,
    rotation: 42, xFont: 20, xWeight: "normal", yFont: 18, tick: 6, axisWidth: 1.8, whisker: 1.5, bracketWidth: 1.6, foot: 8, signif: 16,
    title: "CD4+IL4+%", titleAt: [1234, 843], titleFont: 15.5 },
  { rect: [1256.7, 1115.7, 1567.3, 1324.3], xRange: [-0.648, 3.667], bar: 50, means: cd8Il4Means, tops: cd8Il4Tops, ticks: cd8Il4Ticks, decimals: 1, brackets: cd8Il4Brackets,
    rotation: 44, xFont: 21, xWeight: "normal", yFont: 20, tick: 7, axisWidth: 1.8, whisker: 1.5, bracketWidth: 1.6, foot: 8, signif: 17,
    title: "CD8+IL4+%", titleAt: [1203, 1218], titleFont: 16.5 },
  { rect: [172.2, 1486.7, 583, 1737.3], xRange: [-0.656, 3.667], bar: 65, means: ifnMrnaMeans, tops: ifnMrnaTops, ticks: ifnMrnaTicks, decimals: 1, brackets: ifnMrnaBrackets,
    rotation: 45, xFont: 16, xWeight: "bold", yFont: 12, tick: 6, axisWidth: 1.8, whisker: 1.3, bracketWidth: 1.6, foot: 10, signif: 18,
    title: "IFNγ mRNA expression", titleAt: [138, 1612], titleFont: 16 },
  { rect: [795.7, 1512.3, 1205, 1737.3], xRange: [-0.736, 3.61], bar: 65, means: il4MrnaMeans, tops: il4MrnaTops, ticks: il4MrnaTicks, decimals: 1, brackets: il4MrnaBrackets,
    rotation: 45, xFont: 16, xWeight: "bold", yFont: 12, tick: 6, axisWidth: 1.8, whisker: 1.3, bracketWidth: 1.6, foot: 10, signif: 18,
    title: "IL-4 mRNA expression", titleAt: [769, 1625], titleFont: 15.5 },
  { rect: [1345, 1945, 1654, 2151.7], xRange: [-0.653, 3.67], bar: 50, means: tregMeans, tops: tregTops, ticks: tregTicks, decimals: 0, brackets: tregBrackets,
    rotation: 43, xFont: 21, xWeight: "normal", yFont: 21, tick: 7, axisWidth: 2, whisker: 1.6, bracketWidth: 1.8, foot: 9, signif: 17,
    title: "CD4+CD25+Foxp3+%", titleAt: [1309, 2045], titleFont: 17.5 },
];
barSpecs.forEach(barChart);

// ---------- panel letters ----------
[["A", 10, 15], ["B", 1198, 14], ["C", 1198, 397], ["D", 25, 726], ["E", 1197, 719], ["F", 1196, 1076], ["G", 111, 1443], ["H", 742, 1443], ["I", 6, 1852], ["J", 1328, 1853]]
  .forEach(([t, x, y]) => put(t, x, y, 25, { font: FONT_SANS, weight: "bold", color: "#000" }));

// ---------- big axis arrows ----------
const svgNS = "http://www.w3.org/2000/svg";
const svg = document.createElementNS(svgNS, "svg");
svg.id = "arrows";
svg.setAttribute("width", 1654);
svg.setAttribute("height", 2263);
const arrowParts = [
  ["line", 41, 78, 45, 601, 2], ["line", 44, 598, 1115, 598, 2], ["poly", "39,55 23,80 56,80"], ["poly", "1115,580 1150,598 1115,615"],
  ["line", 41, 801, 47, 1290, 2], ["line", 50, 1292, 1075, 1306, 2], ["poly", "40,774 25,802 56,802"], ["poly", "1075,1293 1111,1306 1075,1319"],
  ["line", 33, 1910, 33, 2165, 2], ["line", 33, 2165, 1277, 2165, 2], ["poly", "33,1883 21,1910 46,1910"], ["poly", "1277,2153 1302,2166 1277,2179"],
];
arrowParts.forEach((p) => {
  let el;
  if (p[0] === "line") {
    el = document.createElementNS(svgNS, "line");
    el.setAttribute("x1", p[1]); el.setAttribute("y1", p[2]);
    el.setAttribute("x2", p[3]); el.setAttribute("y2", p[4]);
    el.setAttribute("stroke", "#111");
    el.setAttribute("stroke-width", p[5]);
  } else {
    el = document.createElementNS(svgNS, "polygon");
    el.setAttribute("points", p[1]);
    el.setAttribute("fill", "#0a0a0a");
  }
  svg.appendChild(el);
});
page.appendChild(svg);
</script>
</body>
</html>
